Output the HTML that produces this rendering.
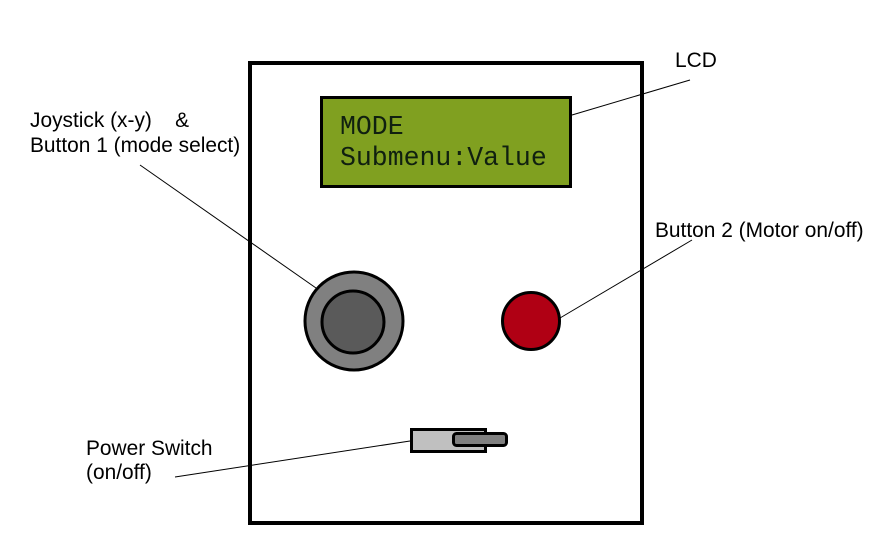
<!DOCTYPE html>
<html><head><meta charset="utf-8"><style>
html,body{margin:0;padding:0;background:#fff;}
svg{display:block;}
</style></head><body>
<svg width="873" height="554" viewBox="0 0 873 554" xmlns="http://www.w3.org/2000/svg">
<rect x="250" y="63" width="392" height="460" fill="#fff" stroke="#000" stroke-width="4"/>
<rect x="321.5" y="97.5" width="249" height="89" fill="#80a020" stroke="#000" stroke-width="3"/>
<text x="340" y="134" font-family="Liberation Mono, monospace" font-size="26.5" fill="#102010">MODE</text>
<text x="340" y="165" font-family="Liberation Mono, monospace" font-size="26.5" fill="#102010">Submenu:Value</text>
<circle cx="354" cy="321" r="49" fill="#808080" stroke="#000" stroke-width="3"/>
<circle cx="353" cy="322" r="31" fill="#5a5a5a" stroke="#000" stroke-width="3"/>
<circle cx="531" cy="321" r="28.5" fill="#b00014" stroke="#000" stroke-width="3"/>
<rect x="411.5" y="429.5" width="74" height="22" fill="#c0c0c0" stroke="#000" stroke-width="3"/>
<rect x="453.5" y="433.5" width="53" height="12" rx="3" fill="#808080" stroke="#000" stroke-width="3"/>
<g stroke="#000" stroke-width="1">
<line x1="572" y1="115" x2="690" y2="80"/>
<line x1="140" y1="165" x2="316" y2="288"/>
<line x1="560" y1="318" x2="692" y2="240"/>
<line x1="175" y1="477" x2="410" y2="441"/>
</g>
<g font-family="Liberation Sans, Arial, sans-serif" font-size="20.9" fill="#000">
<text x="675" y="67">LCD</text>
<text x="30" y="127" xml:space="preserve">Joystick (x-y)    &amp;</text>
<text x="30" y="152">Button 1 (mode select)</text>
<text x="655" y="237">Button 2 (Motor on/off)</text>
<text x="86" y="455">Power Switch</text>
<text x="86" y="479">(on/off)</text>
</g>
</svg>
</body></html>
